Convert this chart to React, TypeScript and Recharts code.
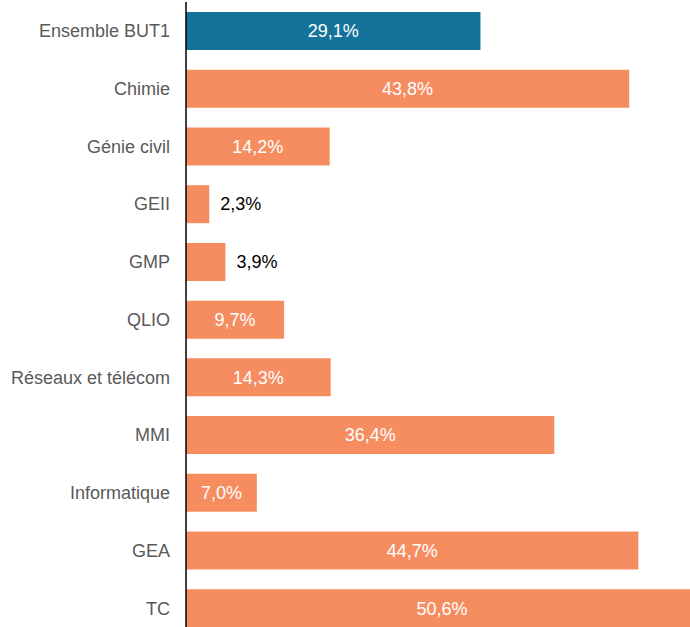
import React from 'react';
import { BarChart, Bar, XAxis, YAxis, Cell, LabelList } from 'recharts';

const categories = ['Ensemble BUT1', 'Chimie', 'Génie civil', 'GEII', 'GMP', 'QLIO', 'Réseaux et télécom', 'MMI', 'Informatique', 'GEA', 'TC'];
const values = [29.1, 43.8, 14.2, 2.3, 3.9, 9.7, 14.3, 36.4, 7.0, 44.7, 50.6];
const highlight = ['Ensemble BUT1'];

const data = categories.map((c, i) => ({ name: c, value: values[i] }));

const FONT = 'Arial, "Liberation Sans", sans-serif';

const fmt = (v: number) => v.toFixed(1).replace('.', ',') + '%';

const ValueLabel = (props: any) => {
  const { x, y, width, height, value } = props;
  const inside = width > 50;
  const cx = inside ? x + width / 2 : x + width + 11;
  return (
    <text
      x={cx}
      y={y + height / 2}
      dy="0.35em"
      textAnchor={inside ? 'middle' : 'start'}
      fill={inside ? '#ffffff' : '#000000'}
      fontFamily={FONT}
      fontSize={18}
    >
      {fmt(value)}
    </text>
  );
};

export default function App() {
  return (
    <div style={{ position: 'absolute', left: 0, top: 0 }}>
      <BarChart
        width={698}
        height={640}
        data={data}
        layout="vertical"
        margin={{ top: 2, right: 0, bottom: 3, left: 0 }}
      >
        <XAxis type="number" domain={[0, 50.6]} hide />
        <YAxis
          type="category"
          dataKey="name"
          width={186}
          tickLine={false}
          tickSize={0}
          tickMargin={16}
          axisLine={{ stroke: '#000000', strokeWidth: 1.5 }}
          tick={{ fill: '#595959', fontSize: 18, fontFamily: FONT }}
          interval={0}
        />
        <Bar dataKey="value" barSize={38} isAnimationActive={false}>
          {data.map((d) => (
            <Cell key={d.name} fill={highlight.includes(d.name) ? '#13739a' : '#f58d61'} />
          ))}
          <LabelList dataKey="value" content={<ValueLabel />} />
        </Bar>
      </BarChart>
    </div>
  );
}
